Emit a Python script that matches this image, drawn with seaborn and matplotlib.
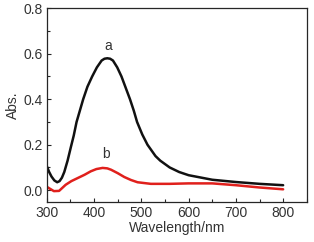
import matplotlib
matplotlib.use("Agg")
import matplotlib.pyplot as plt
import seaborn as sns
import pandas as pd
from matplotlib.ticker import MultipleLocator

# Curve a (black)
wl_a = [300, 305, 310, 316, 322, 327, 332, 337, 344, 351, 357, 363, 370, 377,
        386, 396, 406, 416, 422, 428, 434, 440, 449, 458, 467, 476, 484, 491,
        502, 513, 530, 540, 560, 580, 600, 650, 700, 750, 800]
abs_a = [0.106, 0.08, 0.06, 0.043, 0.035, 0.04, 0.055, 0.08, 0.13, 0.19, 0.24,
         0.30, 0.35, 0.40, 0.455, 0.50, 0.54, 0.57, 0.578, 0.58, 0.578, 0.57,
         0.54, 0.50, 0.45, 0.40, 0.35, 0.30, 0.245, 0.20, 0.15, 0.13, 0.10,
         0.08, 0.066, 0.046, 0.036, 0.028, 0.022]

# Curve b (red)
wl_b = [300, 315, 326, 340, 352, 365, 380, 393, 405, 418, 428, 436, 450, 464,
        478, 492, 520, 560, 600, 650, 700, 750, 800]
abs_b = [0.015, -0.004, -0.003, 0.024, 0.04, 0.053, 0.068, 0.083, 0.093, 0.098,
         0.096, 0.09, 0.075, 0.058, 0.045, 0.035, 0.028, 0.028, 0.03, 0.03,
         0.022, 0.012, 0.004]

sns.set_style("ticks")
plt.rcParams['font.family'] = ['Liberation Sans', 'DejaVu Sans']
plt.rcParams['font.size'] = 10
plt.rcParams['text.color'] = '#333333'
plt.rcParams['axes.labelcolor'] = '#333333'
plt.rcParams['xtick.labelcolor'] = '#333333'
plt.rcParams['ytick.labelcolor'] = '#333333'

df_a = pd.DataFrame({'wl': wl_a, 'abs': abs_a})
df_b = pd.DataFrame({'wl': wl_b, 'abs': abs_b})

fig, ax = plt.subplots(figsize=(3.14, 2.42), dpi=100)
fig.subplots_adjust(left=0.149, right=0.977, bottom=0.167, top=0.966)

sns.lineplot(data=df_a, x='wl', y='abs', color='#111111', linewidth=1.8, ax=ax)
sns.lineplot(data=df_b, x='wl', y='abs', color='#e0201c', linewidth=1.8, ax=ax)

ax.text(429, 0.635, 'a', ha='center', va='center', fontsize=10)
ax.text(425, 0.16, 'b', ha='center', va='center', fontsize=10)

ax.set_xlim(300, 850)
ax.set_ylim(-0.05, 0.8)
ax.xaxis.set_major_locator(MultipleLocator(100))
ax.xaxis.set_minor_locator(MultipleLocator(50))
ax.yaxis.set_major_locator(MultipleLocator(0.2))
ax.yaxis.set_minor_locator(MultipleLocator(0.1))
ax.set_xticks([300, 400, 500, 600, 700, 800])
ax.tick_params(which='both', direction='in', width=0.8, pad=3)
ax.tick_params(which='major', length=3)
ax.tick_params(which='minor', length=2)
for s in ax.spines.values():
    s.set_linewidth(0.9)
ax.set_xlabel('Wavelength/nm', fontsize=10, labelpad=1)
ax.set_ylabel('Abs.', fontsize=10, labelpad=2)

fig.savefig('out.png', dpi=100)
